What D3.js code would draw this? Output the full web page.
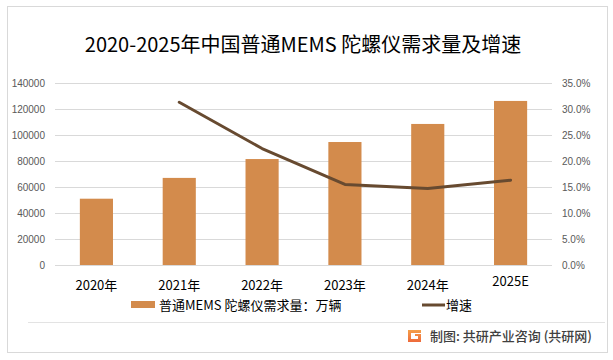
<!DOCTYPE html>
<html>
<head>
<meta charset="utf-8">
<script src="https://cdn.jsdelivr.net/npm/d3@7"></script>
<style>
  html, body { margin: 0; padding: 0; background: #fff; }
  svg { display: block; }
</style>
</head>
<body>
<svg id="chart" width="613" height="360"></svg>
<script>
const years = ["2020年", "2021年", "2022年", "2023年", "2024年", "2025E"];
const demand = [51000, 67000, 81500, 94600, 108500, 126200];
const growth = [null, 31.3, 22.4, 15.5, 14.7, 16.3];
const leftTicks = [0, 20000, 40000, 60000, 80000, 100000, 120000, 140000];
const rightTicks = [0, 5, 10, 15, 20, 25, 30, 35];
const titleText = "2020-2025年中国普通MEMS 陀螺仪需求量及增速";
const barLegend = "普通MEMS 陀螺仪需求量：万辆";
const lineLegend = "增速";
const sourceText = "制图: 共研产业咨询 (共研网)";

const cjk = "'Noto Sans CJK SC', 'Noto Sans', sans-serif";
const latin = "'Liberation Sans', Arial, sans-serif";
const barColor = "#d38b4c";
const lineColor = "#674a30";
const gridColor = "#d9d9d9";

const svg = d3.select("#chart");

// outer frame
svg.append("rect").attr("x", 7.5).attr("y", 6.5).attr("width", 600).attr("height", 346)
  .attr("fill", "#fff").attr("stroke", "#d9d9d9").attr("stroke-width", 1);

// title
svg.append("text").attr("x", 303).attr("y", 52).attr("text-anchor", "middle")
  .attr("font-family", cjk).attr("font-size", 20).attr("fill", "#000")
  .text(titleText);

const x = d3.scaleBand().domain(years).range([55, 552]).paddingInner(0.6).paddingOuter(0.3);
const y = d3.scaleLinear().domain([0, 140000]).range([265, 83]);
const y2 = d3.scaleLinear().domain([0, 35]).range([265, 83]);

// gridlines
svg.append("g").selectAll("line").data(leftTicks).join("line")
  .attr("x1", 55).attr("x2", 552)
  .attr("y1", d => Math.round(y(d)) + 0.5).attr("y2", d => Math.round(y(d)) + 0.5)
  .attr("stroke", gridColor).attr("stroke-width", 1);

// left axis
const leftAxis = svg.append("g").attr("transform", "translate(55,0)")
  .call(d3.axisLeft(y).tickValues(leftTicks).tickSize(0).tickPadding(10).tickFormat(d3.format("d")));
leftAxis.select(".domain").remove();
leftAxis.selectAll("text").attr("font-family", latin).attr("font-size", 10).attr("fill", "#595959");

// right axis
const rightAxis = svg.append("g").attr("transform", "translate(552,0)")
  .call(d3.axisRight(y2).tickValues(rightTicks).tickSize(0).tickPadding(10).tickFormat(d => d.toFixed(1) + "%"));
rightAxis.select(".domain").remove();
rightAxis.selectAll("text").attr("font-family", latin).attr("font-size", 10).attr("fill", "#595959");

// bars
svg.append("g").selectAll("rect").data(demand).join("rect")
  .attr("x", (d, i) => x(years[i]))
  .attr("width", x.bandwidth())
  .attr("y", d => y(d))
  .attr("height", d => y(0) - y(d))
  .attr("fill", barColor);

// line
const pts = growth.map((g, i) => ({ year: years[i], g })).filter(d => d.g !== null);
svg.append("path").datum(pts)
  .attr("d", d3.line().x(d => x(d.year) + x.bandwidth() / 2).y(d => y2(d.g)))
  .attr("fill", "none").attr("stroke", lineColor).attr("stroke-width", 3)
  .attr("stroke-linejoin", "round").attr("stroke-linecap", "round");

// x labels
const xAxis = svg.append("g").attr("transform", "translate(0,265)")
  .call(d3.axisBottom(x).tickSize(0).tickPadding(18));
xAxis.select(".domain").remove();
xAxis.selectAll("text").attr("font-family", cjk).attr("font-size", 13).attr("fill", "#000")
  .attr("dy", d => d === "2025E" ? "0.2em" : "0.5em");

// legend
const lg = svg.append("g");
lg.append("rect").attr("x", 131).attr("y", 301).attr("width", 24).attr("height", 7).attr("fill", barColor);
lg.append("text").attr("x", 159).attr("y", 305).attr("dy", "0.35em")
  .attr("font-family", cjk).attr("font-size", 13).attr("fill", "#000").text(barLegend);
lg.append("line").attr("x1", 422).attr("x2", 445).attr("y1", 305).attr("y2", 305)
  .attr("stroke", lineColor).attr("stroke-width", 3);
lg.append("text").attr("x", 446).attr("y", 305).attr("dy", "0.35em")
  .attr("font-family", cjk).attr("font-size", 13).attr("fill", "#000").text(lineLegend);

// separator
svg.append("line").attr("x1", 28).attr("x2", 605).attr("y1", 322.5).attr("y2", 322.5)
  .attr("stroke", "#e3e3e3").attr("stroke-width", 1);

// source logo
const logo = svg.append("g").attr("transform", "translate(408,330)");
const grad = svg.append("defs").append("linearGradient").attr("id", "lg").attr("x1", 0).attr("y1", 0).attr("x2", 0).attr("y2", 1);
grad.append("stop").attr("offset", "0%").attr("stop-color", "#f5a04a");
grad.append("stop").attr("offset", "100%").attr("stop-color", "#ee6a3a");
logo.append("path").attr("d", "M0,0 H13 V3 H3 V9 H10 V6 H7 V4 H13 V12 H0 Z").attr("fill", "url(#lg)");

svg.append("text").attr("x", 430).attr("y", 336).attr("dy", "0.35em")
  .attr("font-family", cjk).attr("font-size", 13).attr("font-weight", 500).attr("fill", "#404040")
  .text(sourceText);
</script>
</body>
</html>
